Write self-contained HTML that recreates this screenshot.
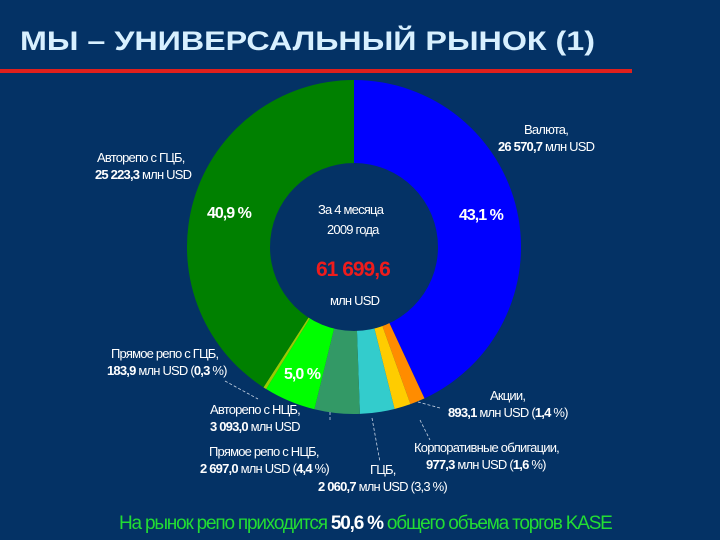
<!DOCTYPE html>
<html><head><meta charset="utf-8"><style>
html,body{margin:0;padding:0;background:#043265;}
svg{display:block;font-family:"Liberation Sans",sans-serif;}
</style></head><body>
<svg width="720" height="540" viewBox="0 0 720 540">
<rect x="0" y="0" width="720" height="540" fill="#043265"/>
<text x="20" y="50" font-size="27" font-weight="bold" fill="#d8f0ff" textLength="575" lengthAdjust="spacingAndGlyphs">МЫ – УНИВЕРСАЛЬНЫЙ РЫНОК (1)</text>
<rect x="0" y="69" width="632" height="4" fill="#e0201c"/>
<g id="slices"></g>
<circle cx="354" cy="247" r="84" fill="#043265"/>
<g fill="#ffffff" font-size="13" letter-spacing="-0.8">
<text x="318" y="214">За 4 месяца</text>
<text x="327" y="234">2009 года</text>
<text x="316" y="276" font-size="21" font-weight="bold" fill="#ee1c1c" letter-spacing="-1">61 699,6</text>
<text x="330" y="305">млн USD</text>
<text x="207" y="218" font-size="16" font-weight="bold" letter-spacing="-1">40,9 %</text>
<text x="459" y="220" font-size="16" font-weight="bold" letter-spacing="-1">43,1 %</text>
<text x="284" y="379" font-size="16" font-weight="bold" letter-spacing="-1">5,0 %</text>
<text x="524" y="134">Валюта,</text>
<text x="498" y="151"><tspan font-weight="bold">26 570,7</tspan> млн USD</text>
<text x="97" y="162">Авторепо с ГЦБ,</text>
<text x="95" y="179"><tspan font-weight="bold">25 223,3</tspan> млн USD</text>
<text x="111" y="358">Прямое репо с ГЦБ,</text>
<text x="107" y="375"><tspan font-weight="bold">183,9</tspan> млн USD (<tspan font-weight="bold">0,3</tspan> %)</text>
<text x="210" y="414">Авторепо с НЦБ,</text>
<text x="210" y="431"><tspan font-weight="bold">3 093,0</tspan> млн USD</text>
<text x="209" y="456">Прямое репо с НЦБ,</text>
<text x="200" y="473"><tspan font-weight="bold">2 697,0</tspan> млн USD (<tspan font-weight="bold">4,4</tspan> %)</text>
<text x="370" y="474">ГЦБ,</text>
<text x="318" y="491"><tspan font-weight="bold">2 060,7</tspan> млн USD (3,3 %)</text>
<text x="414" y="452">Корпоративные облигации,</text>
<text x="426" y="469"><tspan font-weight="bold">977,3</tspan> млн USD (<tspan font-weight="bold">1,6</tspan> %)</text>
<text x="490" y="400">Акции,</text>
<text x="448" y="417"><tspan font-weight="bold">893,1</tspan> млн USD (<tspan font-weight="bold">1,4</tspan> %)</text>
</g>
<g stroke="#c8d4e4" stroke-width="0.8" stroke-dasharray="3,2" fill="none">
<line x1="225" y1="381" x2="258" y2="399"/>
<line x1="440" y1="408" x2="418" y2="402"/>
<line x1="330" y1="420" x2="330" y2="410"/>
<line x1="372" y1="418" x2="380" y2="462"/>
<line x1="420" y1="420" x2="430" y2="440"/>
</g>
<text x="119" y="529" font-size="19" fill="#22dd33" letter-spacing="-1.2">На рынок репо приходится <tspan font-weight="bold" fill="#ffffff">50,6 %</tspan> общего объема торгов KASE</text>
</svg>
<script>
const categories = ["Валюта","Акции","Корпоративные облигации","ГЦБ","Прямое репо с НЦБ","Авторепо с НЦБ","Прямое репо с ГЦБ","Авторепо с ГЦБ"];
const values = [26570.7, 893.1, 977.3, 2060.7, 2697.0, 3093.0, 183.9, 25223.3];
const colors = ["#0000ff","#ff8c00","#ffcc00","#33cccc","#339966","#00ff00","#99cc00","#008000"];
const cx = 354, cy = 247, R = 167;
const total = values.reduce((a,b)=>a+b,0);
function angle(v){ return v/total*2*Math.PI; }
const g = document.getElementById('slices');
let a0 = 0;
values.forEach((v,i)=>{
  const a1 = a0 + angle(v);
  const x0 = cx + R*Math.sin(a0), y0 = cy - R*Math.cos(a0);
  const x1 = cx + R*Math.sin(a1), y1 = cy - R*Math.cos(a1);
  const large = (a1-a0) > Math.PI ? 1 : 0;
  const p = document.createElementNS('http://www.w3.org/2000/svg','path');
  p.setAttribute('d', `M${cx},${cy} L${x0},${y0} A${R},${R} 0 ${large} 1 ${x1},${y1} Z`);
  p.setAttribute('fill', colors[i]);
  
  
  g.appendChild(p);
  a0 = a1;
});
</script>
</body></html>
